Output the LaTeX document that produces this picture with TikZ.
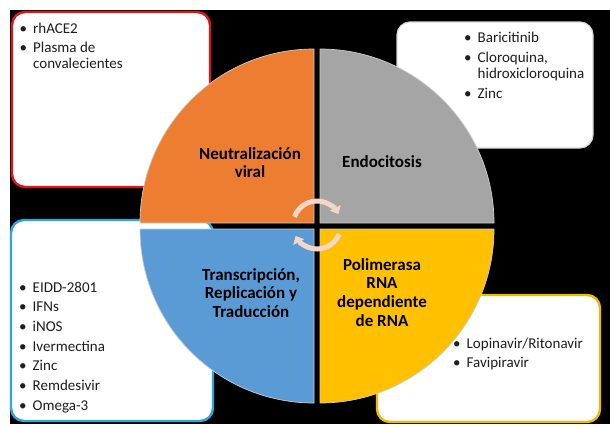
\documentclass[tikz,border=0pt]{standalone}
\usepackage{fontspec}
\setmainfont{Carlito}
\usetikzlibrary{arrows.meta}
\definecolor{qorange}{RGB}{237,125,49}
\definecolor{qgray}{RGB}{165,165,165}
\definecolor{qblue}{RGB}{91,155,213}
\definecolor{qyellow}{RGB}{255,192,0}
\definecolor{bred}{RGB}{226,20,24}
\definecolor{bblue}{RGB}{43,166,222}
\definecolor{byellow}{RGB}{245,184,0}
\definecolor{bgray}{RGB}{215,215,215}
\definecolor{cycarrow}{RGB}{246,214,200}
\newcommand\bul{\makebox[13.5pt][l]{•}}
\begin{document}
\begin{tikzpicture}[x=1pt,y=-1pt,
  infobox/.style={fill=white,line width=2.4pt,rounded corners=13pt},
  quad/.style={draw=white!80!black,line width=0.7pt},
  listtxt/.style={inner sep=0pt,anchor=base west,text=black!88,font=\fontsize{15}{16}\selectfont},
  titletxt/.style={inner sep=0pt,anchor=base,text=black,font=\bfseries\fontsize{17}{18.7}\selectfont},
  cyc/.style={draw=cycarrow,line width=5pt,-{Triangle[width=12pt,length=7pt]}}]
\useasboundingbox (0,0) rectangle (610,426);
\fill[white] (0,0) rectangle (610,426);
\fill[black] (10,10) rectangle (610,424);
% info boxes
\draw[infobox,draw=bred] (12,12) rectangle (210,187);
\draw[infobox,draw=bgray,line width=1.2pt] (397,22) rectangle (593,148);
\draw[infobox,draw=bblue] (11,220) rectangle (213,421);
\draw[infobox,draw=byellow] (377,295) rectangle (600,422);
% quadrants
\fill[qorange,quad] (314,223) -- ++(-174,0) arc[start angle=180,end angle=270,radius=174] -- cycle;
\fill[qgray,quad] (320,223) -- ++(0,-174) arc[start angle=270,end angle=360,radius=174] -- cycle;
\fill[qyellow,quad] (320,229) -- ++(174,0) arc[start angle=0,end angle=90,radius=174] -- cycle;
\fill[qblue,quad] (314,229) -- ++(0,174) arc[start angle=90,end angle=180,radius=174] -- cycle;
% cycle arrows
\coordinate (c) at (317,225);
\draw[cyc] (c) ++(200:24) arc[start angle=200,end angle=333,radius=24];
\draw[cyc] (c) ++(22:24) arc[start angle=22,end angle=153,radius=24];
% titles
\node[titletxt] (t1) at (250,159) {\begin{tabular}[t]{@{}c@{}}Neutralización\\viral\end{tabular}};
\node[titletxt] (t2) at (382,167) {Endocitosis};
\node[titletxt] (t3) at (251,280) {\begin{tabular}[t]{@{}c@{}}Transcripción,\\Replicación y\\Traducción\end{tabular}};
\node[titletxt] (t4) at (382,270) {\begin{tabular}[t]{@{}c@{}}Polimerasa\\RNA\\dependiente\\de RNA\end{tabular}};
% lists
\node[listtxt] (l1) at (19.5,33) {\begin{tabular}[t]{@{}l@{}}\bul rhACE2\\[3pt]\bul Plasma de\\\hspace{13.5pt}convalecientes\end{tabular}};
\node[listtxt] (l2) at (464,42) {\begin{tabular}[t]{@{}l@{}}\bul Baricitinib\\[4pt]\bul Cloroquina,\\\hspace{13.5pt}hidroxicloroquina\\[4pt]\bul Zinc\end{tabular}};
\node[listtxt] (l3) at (19,292) {\begin{tabular}[t]{@{}l@{}}\bul EIDD-2801\\[3.7pt]\bul IFNs\\[3.7pt]\bul iNOS\\[3.7pt]\bul Ivermectina\\[3.7pt]\bul Zinc\\[3.7pt]\bul Remdesivir\\[3.7pt]\bul Omega-3\end{tabular}};
\node[listtxt] (l4) at (453,348) {\begin{tabular}[t]{@{}l@{}}\bul Lopinavir/Ritonavir\\[3pt]\bul Favipiravir\end{tabular}};
\end{tikzpicture}
\end{document}
